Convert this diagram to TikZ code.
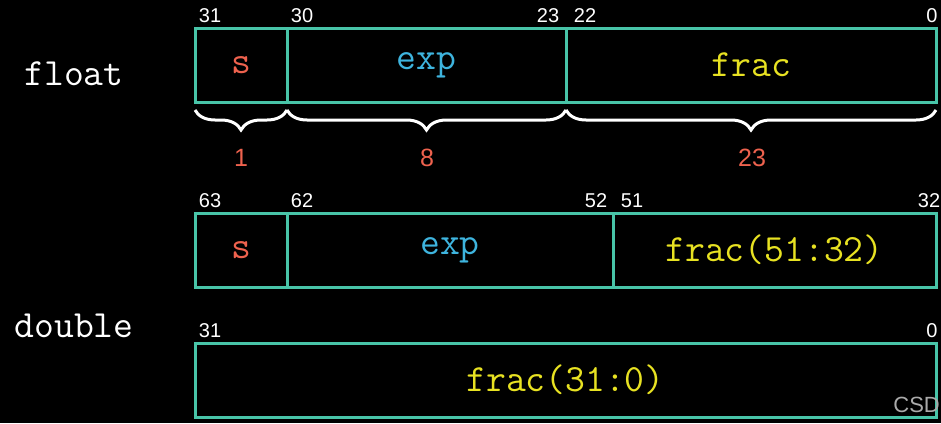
\documentclass[tikz,border=0pt]{standalone}
\usepackage{fontspec}
\setmainfont{Liberation Sans}
\usetikzlibrary{decorations.pathreplacing}
\definecolor{boxteal}{RGB}{72,196,168}
\definecolor{sred}{RGB}{238,98,78}
\definecolor{expblue}{RGB}{62,180,222}
\definecolor{fracyel}{RGB}{232,226,34}
\definecolor{wmgray}{RGB}{170,170,170}
\tikzset{
  cell/.style={draw=boxteal, line width=3pt, minimum height=74pt, inner sep=0pt, font=\ttfamily\fontsize{38.5}{38.5}\selectfont},
  bitnum/.style={text=white, anchor=base, inner sep=0pt, font=\fontsize{20}{20}\selectfont},
  widthnum/.style={text=sred, anchor=base, inner sep=0pt, font=\fontsize{25}{25}\selectfont},
  typename/.style={text=white, anchor=base, inner sep=0pt, font=\ttfamily\fontsize{38.5}{38.5}\selectfont},
  bracebrace/.style={draw=white, line width=3pt, decorate, decoration={brace, mirror, amplitude=20pt}}
}
\begin{document}
\begin{tikzpicture}[x=1pt,y=-1pt]
\useasboundingbox (0,0) rectangle (941,423);
\fill[black] (0,0) rectangle (941,423);

% type names
\node[typename] (tfloat) at (74,85) {float};
\node[typename] (tdouble) at (74,337) {double};

% float row
\node[cell, minimum width=92pt, text=sred] (fs) at (241,65) {s};
\node[cell, minimum width=279pt, text=expblue] (fexp) at (426.5,65) {exp};
\node[cell, minimum width=370pt, text=fracyel] (ffrac) at (751.5,65) {frac};

\node[bitnum] (b31) at (210,22) {31};
\node[bitnum] (b30) at (302,22) {30};
\node[bitnum] (b23) at (548,22) {23};
\node[bitnum] (b22) at (585,22) {22};
\node[bitnum] (b0) at (932,22) {0};

% braces
\coordinate (br0) at (195,110);
\coordinate (br1) at (287,110);
\coordinate (br2) at (566,110);
\coordinate (br3) at (936,110);
\draw[bracebrace] (br0) -- (br1);
\draw[bracebrace] (br1) -- (br2);
\draw[bracebrace] (br2) -- (br3);
\node[widthnum] (w1) at (241,166) {1};
\node[widthnum] (w8) at (427,166) {8};
\node[widthnum] (w23) at (752,166) {23};

% double row 1
\node[cell, minimum width=92pt, text=sred] (ds) at (241,250) {s};
\node[cell, minimum width=326pt, text=expblue] (dexp) at (450,250) {exp};
\node[cell, minimum width=323pt, text=fracyel] (dfrac) at (774.5,250) {frac(51:32)};

\node[bitnum] (d63) at (210,207) {63};
\node[bitnum] (d62) at (302,207) {62};
\node[bitnum] (d52) at (596,207) {52};
\node[bitnum] (d51) at (632,207) {51};
\node[bitnum] (d32) at (929,207) {32};

% double row 2
\node[cell, minimum width=741pt, text=fracyel] (dlow) at (565.5,380) {frac(31:0)};
\node[bitnum] (e31) at (210,337) {31};
\node[bitnum] (e0) at (932,337) {0};

% watermark
\node[text=wmgray, anchor=base east, inner sep=0pt, font=\fontsize{22}{22}\selectfont] (wm) at (940,412) {CSD};
\end{tikzpicture}
\end{document}
